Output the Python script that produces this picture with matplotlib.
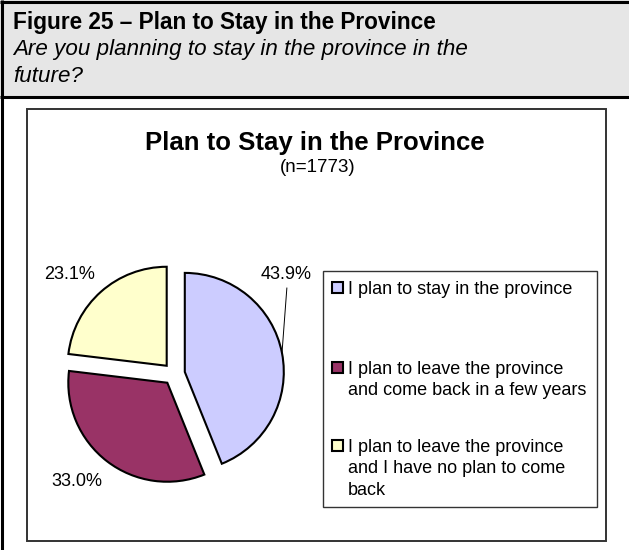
import matplotlib
matplotlib.use('Agg')
import matplotlib.pyplot as plt
from matplotlib.patches import Rectangle
import numpy as np

plt.rcParams['font.family'] = ['Liberation Sans', 'DejaVu Sans']

# ---- data ----
fig_title = "Figure 25 \u2013 Plan to Stay in the Province"
fig_subtitle = "Are you planning to stay in the province in the\nfuture?"
chart_title = "Plan to Stay in the Province"
sample_note = "(n=1773)"
categories = ["I plan to stay in the province",
              "I plan to leave the province\nand come back in a few years",
              "I plan to leave the province\nand I have no plan to come\nback"]
shares = [43.9, 33.0, 23.1]
colors = ["#CCCCFF", "#993366", "#FFFFCC"]

# ---- layout (pixel units, y measured from top) ----
W, H = 629, 550
fig = plt.figure(figsize=(W / 100, H / 100), dpi=100)
ax = fig.add_axes([0, 0, 1, 1])


def Y(y):
    return H - y


# header band
ax.add_patch(Rectangle((0, Y(97)), W, 97, facecolor='#E6E6E6', edgecolor='none', zorder=0))
ax.plot([0, W], [Y(1.5), Y(1.5)], color='black', lw=2.2, solid_capstyle='butt')
ax.plot([0, W], [Y(97), Y(97)], color='black', lw=2.2, solid_capstyle='butt')
ax.plot([2, 2], [0, H], color='black', lw=2.2, solid_capstyle='butt')

ax.text(13, Y(29), fig_title, fontsize=16.3, fontweight='bold', va='baseline', ha='left')
# multi-line text: baseline alignment refers to the last line
ax.text(13, Y(82), fig_subtitle, fontsize=16.1, style='italic', va='baseline', ha='left',
        linespacing=1.36)

# chart area box
ax.add_patch(Rectangle((27, Y(541)), 606 - 27, 541 - 109, facecolor='white',
                       edgecolor='#333333', lw=1.4, zorder=1))

ax.text(315, Y(150), chart_title, fontsize=18.5, fontweight='bold', ha='center', va='baseline')
ax.text(318, Y(168), sample_note, fontsize=13.5, ha='center', va='center')

# pie
cx, cy, R = 174, Y(374), 99
wedges, _ = ax.pie(shares, colors=colors, startangle=90, counterclock=False,
                   explode=[11] * len(shares), center=(cx, cy), radius=R,
                   wedgeprops=dict(edgecolor='black', linewidth=1.5), frame=True)
for w in wedges:
    w.set_zorder(3)

label_dist = [150, 145, 144]
label_ang_off = [30.8, -4.8, 4.8]
for i, (w, v, d, off) in enumerate(zip(wedges, shares, label_dist, label_ang_off)):
    mid = (w.theta1 + w.theta2) / 2
    a = np.deg2rad(mid + off)
    tx, ty = cx + d * np.cos(a), cy + d * np.sin(a)
    ax.text(tx, ty, f"{v:.1f}%", fontsize=13, ha='center', va='center', zorder=4)
    if i == 0:
        am = np.deg2rad(mid)
        wx, wy = w.center
        ax.plot([tx + 1, wx + R * np.cos(am)], [ty - 14, wy + R * np.sin(am)],
                color='black', lw=0.7, zorder=4)

# legend
ax.add_patch(Rectangle((323, Y(507)), 597 - 323, 507 - 271, facecolor='white',
                       edgecolor='#333333', lw=1.0, zorder=2))
entry_y = [287, 367, 445]
line_step = 21.7
for lab, col, ey in zip(categories, colors, entry_y):
    ax.add_patch(Rectangle((332, Y(ey) - 5.5), 11, 11, facecolor=col, edgecolor='black',
                           lw=1.5, zorder=3))
    n_lines = lab.count("\n")
    ax.text(348, Y(ey + 6.5 + n_lines * line_step), lab, fontsize=13, ha='left',
            va='baseline', linespacing=1.36, zorder=3)

ax.set_xlim(0, W)
ax.set_ylim(0, H)
ax.set_aspect('auto')
ax.axis('off')

fig.savefig('out.png', dpi=100)
